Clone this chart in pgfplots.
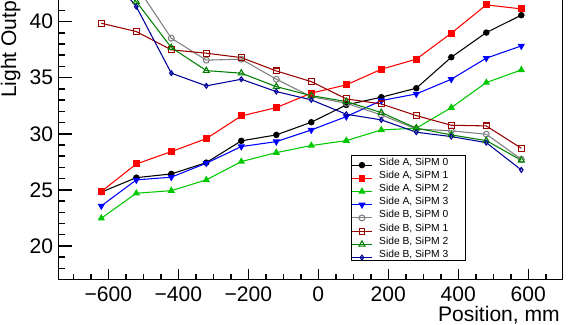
\documentclass[border=0pt]{standalone}
\usepackage{pgfplots}
\pgfplotsset{compat=1.18}
\usepackage{fontspec}
\setmainfont{Liberation Sans}
\definecolor{agreen}{RGB}{0,200,0}
\definecolor{bgrey}{RGB}{128,128,128}
\definecolor{bred}{RGB}{153,0,0}
\definecolor{bgreen}{RGB}{0,128,0}
\definecolor{bblue}{RGB}{0,0,153}
\newcommand{\lent}[1]{\makebox[66pt][l]{\hspace*{3pt}#1}}
\begin{document}
\begin{tikzpicture}
\path[clip, use as bounding box] (-43.725pt,-34.275pt) rectangle (395.775pt,209.475pt);
\begin{axis}[
  at={(0pt,0pt)}, anchor=south west,
  scale only axis, width=378.3pt, height=218.54pt,
  xmin=-742.9, xmax=698.3, ymin=17.03, ymax=43,
  font=\fontsize{15.8}{18}\selectfont,
  /pgf/number format/assume math mode=true,
  xtick={-600,-400,-200,0,200,400,600},
  xticklabels={−600,−400,−200,0,200,400,600},
  minor xtick={-700,-650,...,650},
  ytick={20,25,30,35,40},
  minor ytick={18,19,...,41},
  tick pos=left,
  tick align=inside,
  axis line style={line width=1.1pt, black},
  tick style={line width=1.1pt, black},
  xtick style={/pgfplots/major tick length=7.5pt, /pgfplots/minor tick length=3.75pt},
  ytick style={/pgfplots/major tick length=10pt, /pgfplots/minor tick length=5pt},
  xticklabel style={anchor=base, yshift=-16.9pt},
  yticklabel style={inner xsep=0pt, xshift=-3.75pt},
  legend style={at={(0.5802,0.4265)}, anchor=north west, draw=black, line width=0.75pt,
    fill=white, inner sep=0pt, font=\fontsize{7.7}{9}\selectfont, row sep=0.3pt,
    nodes={inner xsep=2pt, inner ysep=0.5pt, text height=6.7pt, text depth=1.9pt, anchor=base west}},
  legend cell align=left,
  legend image code/.code={\draw[mark repeat=2, mark phase=2] plot coordinates {(0pt,0pt) (7.5pt,0pt) (15pt,0pt)};},
  every axis plot/.append style={line width=0.8pt},
]
\addplot[color=black, mark=*, mark size=2pt] coordinates {(-620,24.80) (-520,26.09) (-420,26.42) (-320,27.43) (-220,29.37) (-120,29.90) (-20,31.03) (80,32.57) (180,33.26) (280,34.06) (380,36.82) (480,39.02) (580,40.57)};
\addlegendentry{\lent{Side A, SiPM 0}}
\addplot[color=red, mark=square*, mark size=2.2pt] coordinates {(-620,24.85) (-520,27.31) (-420,28.41) (-320,29.57) (-220,31.59) (-120,32.33) (-20,33.62) (80,34.36) (180,35.75) (280,36.65) (380,38.96) (480,41.49) (580,41.13)};
\addlegendentry{\lent{Side A, SiPM 1}}
\addplot[color=agreen, mark=triangle*, mark size=2.4pt] coordinates {(-620,22.47) (-520,24.70) (-420,24.93) (-320,25.89) (-220,27.52) (-120,28.32) (-20,28.95) (80,29.39) (180,30.34) (280,30.50) (380,32.33) (480,34.56) (580,35.69)};
\addlegendentry{\lent{Side A, SiPM 2}}
\addplot[color=blue, mark=triangle*, mark size=2.4pt, mark options={rotate=180}] coordinates {(-620,23.57) (-520,25.89) (-420,26.13) (-320,27.38) (-220,28.86) (-120,29.30) (-20,30.34) (80,31.53) (180,32.96) (280,33.55) (380,34.86) (480,36.74) (580,37.83)};
\addlegendentry{\lent{Side A, SiPM 3}}
\addplot[color=bgrey, mark=o, mark size=2.2pt] coordinates {(-620,46.0) (-520,43.2) (-420,38.52) (-320,36.56) (-220,36.65) (-120,34.86) (-20,33.31) (80,32.72) (180,31.68) (280,30.43) (380,30.26) (480,29.96) (580,27.73)};
\addlegendentry{\lent{Side B, SiPM 0}}
\addplot[color=bred, mark=square, mark size=2.2pt] coordinates {(-620,39.85) (-520,39.11) (-420,37.48) (-320,37.18) (-220,36.79) (-120,35.60) (-20,34.65) (80,33.11) (180,32.66) (280,31.62) (380,30.76) (480,30.70) (580,28.71)};
\addlegendentry{\lent{Side B, SiPM 1}}
\addplot[color=bgreen, mark=triangle, mark size=2.6pt] coordinates {(-620,44.5) (-520,41.78) (-420,37.68) (-320,35.63) (-220,35.40) (-120,34.20) (-20,33.40) (80,32.87) (180,31.89) (280,30.50) (380,29.90) (480,29.39) (580,27.64)};
\addlegendentry{\lent{Side B, SiPM 2}}
\addplot[color=bblue, mark=diamond, mark size=1.8pt] coordinates {(-620,45.1) (-520,41.33) (-420,35.40) (-320,34.27) (-220,34.86) (-120,33.76) (-20,33.02) (80,31.74) (180,31.24) (280,30.14) (380,29.75) (480,29.21) (580,26.78)};
\addlegendentry{\lent{Side B, SiPM 3}}
\end{axis}
\node[rotate=90, anchor=base west, inner sep=0pt, font=\fontsize{15.8}{18}\selectfont] at (-31.7pt,135.8pt) {Light Output};
\node[anchor=base east, inner sep=0pt, font=\fontsize{15.8}{18}\selectfont] at (376.3pt,-31.9pt) {Position, mm};
\end{tikzpicture}
\end{document}
